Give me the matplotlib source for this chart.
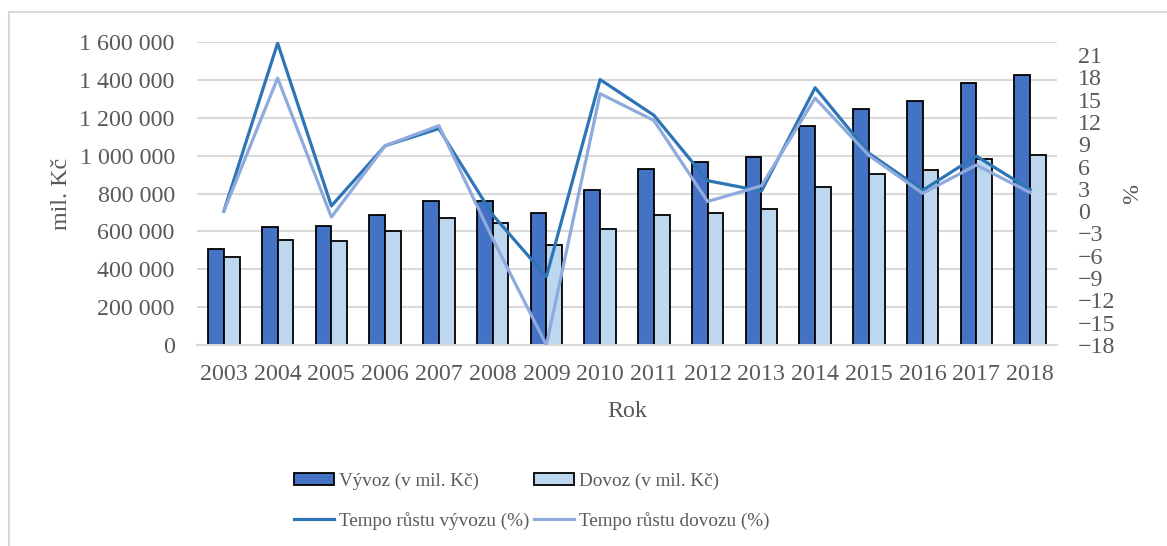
import numpy as np
import matplotlib
matplotlib.use("Agg")
import matplotlib.pyplot as plt
from matplotlib.patches import Rectangle
from matplotlib.ticker import FuncFormatter

plt.rcParams['font.family'] = ['Liberation Serif', 'DejaVu Serif']
plt.rcParams['font.size'] = 17.3

years = [str(y) for y in range(2003, 2019)]
vyvoz = [505000, 622000, 626000, 684000, 761000, 758000, 695000, 818000,
         927000, 964000, 992000, 1159000, 1247000, 1286000, 1384000, 1428000]
dovoz = [466000, 552000, 549000, 600000, 670000, 644000, 528000, 612000,
         688000, 697000, 719000, 832000, 901000, 923000, 983000, 1004000]
tempo_vyvozu = [0.0, 22.6, 0.7, 8.8, 11.1, -0.5, -8.8, 17.7,
                12.9, 4.1, 2.7, 16.6, 7.8, 2.8, 7.4, 2.9]
tempo_dovozu = [0.0, 17.9, -0.8, 8.8, 11.5, -3.7, -18.0, 15.8,
                12.2, 1.3, 3.4, 15.2, 7.5, 2.4, 6.2, 2.5]

text_col = '#595959'
grid_col = '#D9D9D9'

fig = plt.figure(figsize=(11.67, 5.46), dpi=100)
# chart frame (only left and top edges are inside the picture)
fig.patches.append(Rectangle((9 / 1167, -0.1), 1.2, 1 - 12 / 546 + 0.1,
                             transform=fig.transFigure, fill=False,
                             edgecolor=grid_col, linewidth=1.5))

ax = fig.add_axes([197 / 1167, 1 - 345 / 546, 860 / 1167, 303 / 546])
x = np.arange(len(years))
w = 0.292
b1 = ax.bar(x - w / 2, vyvoz, w, color='#4472C4', edgecolor='black',
            linewidth=1.3, label='Vývoz (v mil. Kč)', zorder=2)
b2 = ax.bar(x + w / 2, dovoz, w, color='#BDD7EE', edgecolor='black',
            linewidth=1.3, label='Dovoz (v mil. Kč)', zorder=2)
ax.set_xlim(-0.5, len(years) - 0.5)
ax.set_ylim(0, 1600000)
ax.set_yticks(np.arange(0, 1600001, 200000))
ax.yaxis.set_major_formatter(FuncFormatter(lambda v, p: f'{int(v):,}'.replace(',', ' ')))
ax.set_xticks(x)
ax.set_xticklabels(years)
ax.grid(axis='y', color=grid_col, linewidth=1.5, zorder=0)
ax.set_axisbelow(True)
for s in ['top', 'right', 'left']:
    ax.spines[s].set_visible(False)
ax.spines['bottom'].set_color(grid_col)
ax.spines['bottom'].set_linewidth(1.5)
ax.tick_params(length=0, colors=text_col)
ax.tick_params(axis='y', pad=16)
ax.tick_params(axis='x', pad=14)
ax.set_ylabel('mil. Kč', color=text_col, labelpad=5)
ax.set_xlabel('Rok', color=text_col, labelpad=11)

ax2 = ax.twinx()
l1, = ax2.plot(x, tempo_vyvozu, color='#2E75B6', linewidth=2.3,
               label='Tempo růstu vývozu (%)')
l2, = ax2.plot(x, tempo_dovozu, color='#8FAADC', linewidth=2.3,
               label='Tempo růstu dovozu (%)')
ax2.set_ylim(-18, 22.75)
ax2.set_yticks(np.arange(-18, 22, 3))
for s in ['top', 'right', 'left', 'bottom']:
    ax2.spines[s].set_visible(False)
ax2.tick_params(length=0, colors=text_col, pad=15)
ax2.set_ylabel('%', color=text_col, labelpad=5)

leg = fig.legend([b1, l1, b2, l2],
                 ['Vývoz (v mil. Kč)', 'Tempo růstu vývozu (%)',
                  'Dovoz (v mil. Kč)', 'Tempo růstu dovozu (%)'],
                 ncol=2, loc='center left', bbox_to_anchor=(284 / 1167, 1 - 501 / 546),
                 frameon=False, fontsize=13.8, handlelength=2.1, handleheight=0.6,
                 handletextpad=0.25, columnspacing=0.25, labelspacing=1.15,
                 borderpad=0, labelcolor=text_col)

fig.savefig('out.png', dpi=100)
